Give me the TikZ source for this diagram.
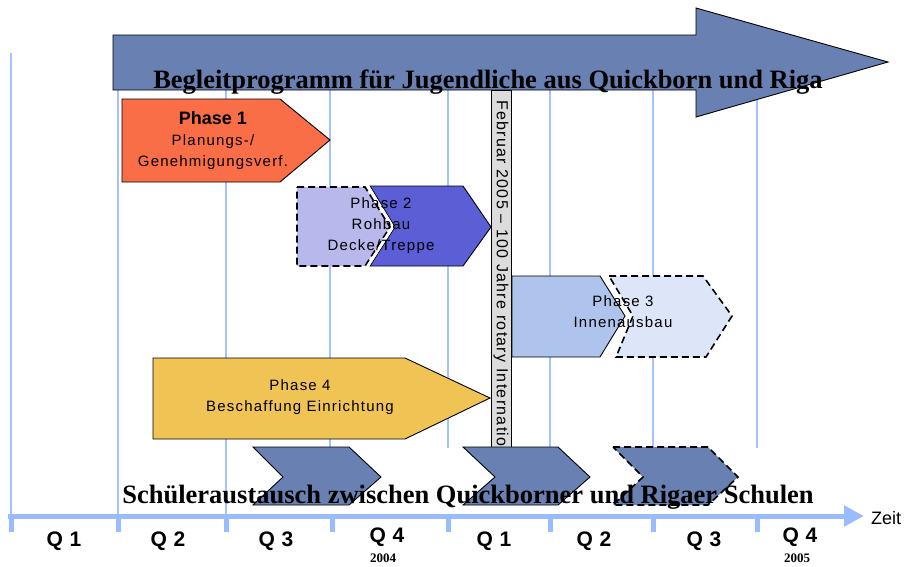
\documentclass[tikz,border=0pt]{standalone}
\usepackage{fontspec}
\setmainfont{Liberation Serif}
\setsansfont{Liberation Sans}
\newfontfamily\phfont[LetterSpace=8]{Liberation Sans}
\newfontfamily\qfont[LetterSpace=4]{Liberation Sans}
\usetikzlibrary{arrows.meta}
\definecolor{gridblue}{HTML}{A3C2FF}
\definecolor{axisblue}{HTML}{99BBFF}
\definecolor{steel}{HTML}{6880B2}
\definecolor{porange}{HTML}{F96E46}
\definecolor{plav}{HTML}{B8B8EC}
\definecolor{pdark}{HTML}{5C5ED6}
\definecolor{pblue}{HTML}{AFC4EC}
\definecolor{ppale}{HTML}{DCE6F8}
\definecolor{pyellow}{HTML}{F0C355}
\definecolor{bargray}{HTML}{DCDCDC}
\begin{document}
\begin{tikzpicture}[x=1pt,y=-1pt,
  gridline/.style={draw=gridblue,line width=1.8pt},
  tickline/.style={draw=axisblue,line width=5pt},
  shapebox/.style={draw=black,line width=0.9pt,line join=miter},
  dashbox/.style={draw=black,line width=1.6pt,dash pattern=on 7pt off 4pt},
  phtext/.style={font=\phfont\fontsize{15}{21}\selectfont,align=center,inner sep=0pt},
  qlabel/.style={font=\qfont\bfseries\fontsize{21}{22}\selectfont,inner sep=0pt},
  yearlabel/.style={font=\rmfamily\bfseries\fontsize{13}{14}\selectfont,inner sep=0pt},
  bigtitle/.style={font=\rmfamily\bfseries\fontsize{26.5}{30}\selectfont,inner sep=0pt,anchor=base}
]
\useasboundingbox (0,0) rectangle (905,566);
% grid lines
\foreach \x in {11,118,226}{\draw[gridline] (\x,53) -- (\x,516);}
\foreach \x in {330,448,550,653,757}{\draw[gridline] (\x,53) -- (\x,448);}
% big arrow
\draw[shapebox,fill=steel] (113,35) -- (696,35) -- (696,8) -- (888,62) -- (696,117) -- (696,90) -- (113,90) -- cycle;
% gray bar with rotated text
\draw[fill=bargray,draw=black,line width=0.9pt] (491,90) rectangle (511,448);
\begin{scope}
\clip (491,90) rectangle (511,448);
\node[rotate=-90,anchor=west,font=\phfont\fontsize{16}{18}\selectfont,inner sep=0pt] (febtext) at (501,100) {Februar 2005 – 100 Jahre rotary International};
\end{scope}
% Phase 1
\draw[shapebox,fill=porange] (122,99) -- (280,99) -- (330,140) -- (280,182) -- (122,182) -- cycle;
\node[phtext] (p1) at (213,141) {{\sffamily\bfseries\fontsize{18}{21}\selectfont Phase 1}\\Planungs-/\\Genehmigungsverf.};
% Phase 2
\draw[dashbox,fill=plav] (297,187) -- (365,187) -- (390,227) -- (365,266) -- (297,266) -- cycle;
\draw[shapebox,fill=pdark] (370,186) -- (463,186) -- (491,227) -- (463,266) -- (370,266) -- (395,227) -- cycle;
\draw[white,line width=2.5pt] (368,186) -- (393,227) -- (368,266);
\node[phtext] (p2) at (381,226) {Phase 2\\Rohbau\\Decke/Treppe};
% Phase 3
\draw[shapebox,fill=pblue] (512,276) -- (600,276) -- (625,316) -- (600,357) -- (512,357) -- cycle;
\draw[white,line width=2pt] (607,276) -- (631,316) -- (614,357);
\draw[dashbox,fill=ppale] (609,276) -- (703,276) -- (732,316) -- (706,357) -- (616,357) -- (633,316) -- cycle;
\node[phtext] (p3) at (623,312) {Phase 3\\Innenausbau};
% Phase 4
\draw[shapebox,fill=pyellow] (153,358) -- (405,358) -- (490,398) -- (405,439) -- (153,439) -- cycle;
\node[phtext] (p4) at (300,397) {Phase 4\\Beschaffung Einrichtung};
% chevrons
\draw[shapebox,fill=steel] (253,447) -- (349,447) -- (381,477) -- (349,505) -- (253,505) -- (283,477) -- cycle;
\draw[shapebox,fill=steel] (463,447) -- (558,447) -- (590,477) -- (558,505) -- (463,505) -- (495,477) -- cycle;
\draw[dashbox,fill=steel] (613,447) -- (708,447) -- (738,477) -- (708,505) -- (613,505) -- (643,477) -- cycle;
% titles
\node[bigtitle] (title) at (488,88) {Begleitprogramm für Jugendliche aus Quickborn und Riga};
\node[bigtitle] (exchange) at (468,503) {Schüleraustausch zwischen Quickborner und Rigaer Schulen};
% axis
\coordinate (axl) at (8,516);
\coordinate (axr) at (864,516);
\draw[draw=axisblue,line width=5pt,-{Triangle[length=20pt,width=20pt]}] (axl) -- (axr);
\foreach \x in {11,118,226,332,448,550,653,757}{\draw[tickline] (\x,514) -- (\x,532);}
\node[font=\sffamily\fontsize{18}{20}\selectfont,inner sep=0pt] (zeit) at (886,518) {Zeit};
% quarter labels
\node[qlabel] (qa) at (64,541) {Q 1};
\node[qlabel] (qb) at (168,541) {Q 2};
\node[qlabel] (qc) at (276,541) {Q 3};
\node[qlabel] (qd) at (387,537) {Q 4};
\node[yearlabel] (ya) at (383,558) {2004};
\node[qlabel] (qe) at (494,541) {Q 1};
\node[qlabel] (qf) at (594,541) {Q 2};
\node[qlabel] (qg) at (704,541) {Q 3};
\node[qlabel] (qh) at (800,537) {Q 4};
\node[yearlabel] (yb) at (797,558) {2005};
\end{tikzpicture}
\end{document}
